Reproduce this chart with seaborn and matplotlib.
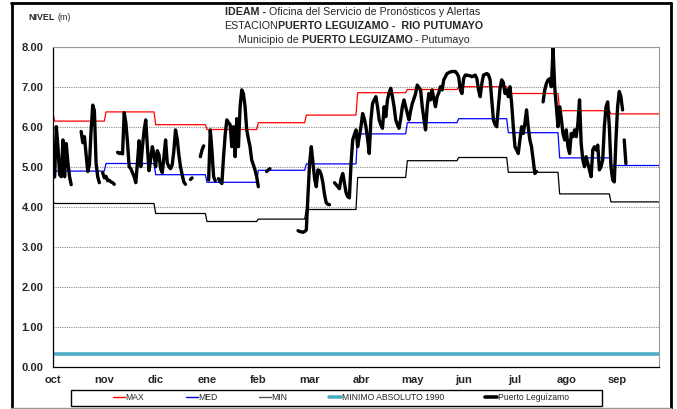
import numpy as np
import pandas as pd
import matplotlib
matplotlib.use("Agg")
import matplotlib.pyplot as plt
from matplotlib import font_manager
from matplotlib.lines import Line2D
from matplotlib.patches import Rectangle
import seaborn as sns

# ---------------------------------------------------------------- data
months = ["oct", "nov", "dic", "ene", "feb", "mar",
          "abr", "may", "jun", "jul", "ago", "sep"]
month_days = [31, 30, 31, 31, 29, 31, 30, 31, 30, 31, 31, 30]

max_level = [6.14, 6.37, 6.05, 5.93, 6.10, 6.29, 6.85, 6.93, 7.00, 6.83, 6.40, 6.32]
med_level = [4.89, 5.08, 4.80, 4.61, 4.91, 5.07, 5.82, 6.10, 6.20, 5.85, 5.22, 5.03]
min_level = [4.08, 4.08, 3.83, 3.63, 3.69, 3.93, 4.73, 5.15, 5.23, 4.86, 4.32, 4.12]
minimo_1990 = 0.32

nan = np.nan
# daily readings (day 0 = 30 sep); nan marks a break in the record
obs_day = (
    list(range(0, 12)) + [12] +
    list(range(17, 29)) + [29] +
    list(range(30, 38)) + [38] +
    list(range(39, 81)) + [81] +
    [83, 84] + [85] +
    [89, 90, 91] + [92] +
    list(range(94, 99)) + [99] +
    list(range(100, 125)) + [125] +
    [129, 130, 131] + [132] +
    list(range(148, 168)) + [168] +
    list(range(170, 293)) + [293] +
    list(range(296, 345)) + [345.5] +
    [345, 346]
)
obs_level = (
    [4.72, 4.75, 6.00, 5.50, 4.80, 4.75, 5.67, 4.75, 5.58, 5.10, 4.75, 4.55] + [nan] +
    [5.88, 5.60, 5.75, 5.30, 4.88, 5.05, 5.90, 6.54, 6.40, 5.10, 4.75, 4.60] + [nan] +
    [4.85, 4.72, 4.76, 4.65, 4.66, 4.62, 4.60, 4.56] + [nan] +
    [5.36, 5.33, 5.35, 5.32, 6.35, 6.10, 5.60, 5.00, 4.95, 4.85, 4.75, 4.60,
     5.10, 5.65, 5.00, 5.50, 5.90, 6.17, 5.50, 4.90, 5.20, 5.50, 5.30, 5.00,
     5.40, 5.30, 4.95, 4.85, 5.25, 5.67, 5.10, 5.00, 4.95, 5.05, 5.40, 5.92,
     5.70, 5.30, 5.00, 4.80, 4.62, 4.56] + [nan] +
    [4.68, 4.72] + [nan] +
    [5.25, 5.42, 5.52] + [nan] +
    [4.67, 5.92, 5.40, 4.75, 4.65] + [nan] +
    [4.70, 4.62, 4.58, 5.25, 5.80, 6.17, 6.10, 6.05, 5.50, 6.00, 5.25, 6.20,
     5.50, 6.50, 6.92, 6.83, 6.50, 5.92, 5.70, 5.50, 5.17, 5.05, 4.92, 4.75,
     4.50] + [nan] +
    [4.88, 4.92, 4.95] + [nan] +
    [3.40, 3.38, 3.37, 3.36, 3.38, 3.42, 4.30, 5.10, 5.50, 5.10, 4.70, 4.50,
     4.92, 4.90, 4.80, 4.60, 4.30, 4.10, 4.06, 4.05] + [nan] +
    [4.60, 4.55, 4.50, 4.45, 4.70, 4.83, 4.60, 4.35, 4.25, 4.22, 5.08, 5.67,
     5.80, 5.92, 5.50, 5.75, 6.00, 6.33, 6.20, 6.00, 5.70, 5.33, 6.17, 6.58,
     6.67, 6.75, 6.50, 6.17, 6.05, 5.96, 6.50, 6.25, 6.67, 6.85, 6.96, 6.75,
     6.50, 6.17, 6.05, 5.96, 6.20, 6.50, 6.67, 6.50, 6.33, 6.17, 6.40, 6.58,
     6.70, 6.83, 7.04, 6.98, 6.92, 6.50, 6.20, 5.92, 6.50, 6.83, 6.67, 6.92,
     6.70, 6.50, 6.75, 6.85, 7.00, 6.92, 7.17, 7.25, 7.33, 7.35, 7.37, 7.38,
     7.38, 7.38, 7.33, 7.25, 6.92, 6.83, 7.20, 7.29, 7.29, 7.28, 7.27, 7.25,
     7.27, 7.29, 7.20, 6.92, 6.75, 7.08, 7.29, 7.31, 7.33, 7.30, 7.17, 6.67,
     6.17, 6.05, 6.00, 6.50, 6.96, 7.17, 7.10, 6.83, 6.92, 6.75, 7.00, 6.58,
     6.00, 5.50, 5.42, 5.33, 5.67, 6.00, 5.83, 6.08, 6.42, 6.00, 5.67, 5.50,
     5.17, 4.83, 4.88] + [nan] +
    [6.62, 6.92, 7.08, 7.17, 7.20, 7.00, 7.96, 7.00, 6.50, 6.00, 6.50, 6.20,
     5.83, 5.67, 5.92, 5.50, 5.33, 5.83, 5.75, 5.92, 5.75, 6.08, 6.67, 5.58,
     5.17, 5.00, 5.25, 5.08, 4.92, 4.75, 5.42, 5.50, 5.42, 5.54, 4.92, 5.00,
     5.17, 6.00, 6.50, 6.62, 6.00, 5.00, 4.67, 4.62, 5.67, 6.50, 6.88, 6.75,
     6.42] + [nan] +
    [5.67, 5.08]
)

# ---------------------------------------------------------------- fonts
W, H = 677, 409
available = {f.name for f in font_manager.fontManager.ttflist}
if "Liberation Sans Narrow" in available:
    narrow, shrink = "Liberation Sans Narrow", 1.0
else:
    narrow, shrink = "Liberation Sans", 0.84
regular = "Liberation Sans"

sns.set_style("white")
plt.rcParams["font.family"] = [narrow, "DejaVu Sans"]


def fs(pt):
    return pt * shrink


# ---------------------------------------------------------------- series tables
def daily_steps(values):
    # value of the previous September on day 0, then one value per day
    return np.concatenate([[values[-1]], np.repeat(values, month_days)])


days = np.arange(0, sum(month_days) + 1)
steps = pd.DataFrame({
    "day": days,
    "MAX": daily_steps(max_level),
    "MED": daily_steps(med_level),
    "MIN": daily_steps(min_level),
})

obs = pd.DataFrame({"day": obs_day, "level": obs_level})
obs["seg"] = obs["level"].isna().cumsum()
obs = obs.dropna()

# ---------------------------------------------------------------- figure
fig = plt.figure(figsize=(W / 100, H / 100), dpi=100)
ax = fig.add_axes([53 / W, 1 - 366.7 / H, (659 - 53) / W, (366.7 - 46.7) / H])

c_max, c_med, c_min, c_abs = "#ff0000", "#0000ff", "#000000", "#4bacc6"

sns.lineplot(data=steps, x="day", y="MAX", color=c_max, linewidth=0.9,
             estimator=None, ax=ax)
sns.lineplot(data=steps, x="day", y="MED", color=c_med, linewidth=0.9,
             estimator=None, ax=ax)
sns.lineplot(data=steps, x="day", y="MIN", color=c_min, linewidth=0.9,
             estimator=None, ax=ax)
sns.lineplot(x=[days[0], days[-1]], y=[minimo_1990, minimo_1990], color=c_abs,
             linewidth=2.6, estimator=None, ax=ax)
sns.lineplot(data=obs, x="day", y="level", units="seg", estimator=None,
             color="black", linewidth=2.4, ax=ax, legend=False)

ax.set_xlim(0, days[-1])
ax.set_ylim(0, 8)
ax.set_xlabel("")
ax.set_ylabel("")

yt = np.arange(0, 9)
ax.set_yticks(yt)
ax.set_yticklabels([f"{v:.2f}" for v in yt])
xt = np.arange(12) * 31
ax.set_xticks(xt)
ax.set_xticklabels(months)
ax.tick_params(axis="both", direction="out", length=4, width=0.8,
               color="black", pad=3)
ax.tick_params(axis="x", pad=2)
for lab in ax.get_xticklabels() + ax.get_yticklabels():
    lab.set_fontweight("bold")
    lab.set_family([regular, "DejaVu Sans"])
    lab.set_fontsize(8.0)

for v in yt[1:]:
    ax.axhline(v, color="#8c8c8c", linewidth=0.8, linestyle=(0, (1, 1)), zorder=0)

for side in ("left", "bottom"):
    ax.spines[side].set_color("black")
    ax.spines[side].set_linewidth(0.9)
for side in ("top", "right"):
    ax.spines[side].set_color("#9a9a9a")
    ax.spines[side].set_linewidth(0.8)

# ---------------------------------------------------------------- legend
handles = [
    Line2D([], [], color=c_max, linewidth=1.0),
    Line2D([], [], color=c_med, linewidth=1.0),
    Line2D([], [], color="#555555", linewidth=1.0),
    Line2D([], [], color=c_abs, linewidth=2.6),
    Line2D([], [], color="black", linewidth=2.6),
]
labels = ["MAX", "MED", "MIN", "MINIMO ABSOLUTO 1990", "Puerto Leguízamo"]
fig.legend(handles, labels, loc="center", bbox_to_anchor=(341 / W, 1 - 398 / H),
           ncol=5, frameon=False, handlelength=1.35, handletextpad=0.1,
           columnspacing=4.8, fontsize=fs(7.4), borderpad=0, borderaxespad=0)
fig.add_artist(Rectangle((71 / W, 1 - 406 / H), (602 - 71) / W, 16 / H,
                         transform=fig.transFigure, fill=False,
                         edgecolor="black", linewidth=1.0))

# ---------------------------------------------------------------- header text
renderer = fig.canvas.get_renderer()


def rich_line(xc, yc, pieces, size):
    texts = [fig.text(0, 0, s, fontsize=size, fontweight=w, va="center")
             for s, w in pieces]
    probe = fig.text(0, 0, "x x", fontsize=size)
    probe2 = fig.text(0, 0, "xx", fontsize=size)
    space = (probe.get_window_extent(renderer).width
             - probe2.get_window_extent(renderer).width)
    probe.remove()
    probe2.remove()
    widths = []
    for t, (s, _) in zip(texts, pieces):
        t.set_text(s.strip())
        widths.append(t.get_window_extent(renderer).width)
    gaps = [space * (len(s) - len(s.rstrip())) for s, _ in pieces]
    lead = [space * (len(s) - len(s.lstrip())) for s, _ in pieces]
    total = sum(widths) + sum(gaps) + sum(lead)
    x = xc - total / 2
    for t, w, g, l in zip(texts, widths, gaps, lead):
        x += l
        t.set_position((x / W, 1 - yc / H))
        x += w + g


head = fs(9.1)
rich_line(353, 12, [("IDEAM - ", "bold"),
                    ("Oficina del Servicio de Pronósticos y Alertas", "normal")], head)
rich_line(354, 26, [("ESTACION", "normal"),
                    ("PUERTO LEGUIZAMO -  RIO PUTUMAYO", "bold")], head)
rich_line(354, 40, [("Municipio de ", "normal"),
                    ("PUERTO LEGUIZAMO", "bold"),
                    (" - Putumayo", "normal")], head)

t1 = fig.text(28 / W, 1 - 17 / H, "NIVEL", fontsize=fs(7.6), fontweight="bold", va="center")
w1 = t1.get_window_extent(renderer).width
fig.text((28 + w1 + 3) / W, 1 - 17 / H, "(m)", fontsize=fs(7.6), va="center")

# ---------------------------------------------------------------- outer frame
fig.add_artist(Line2D([11.5 / W, 11.5 / W], [0, 1 - 2.5 / H], color="black",
                      linewidth=2.0, transform=fig.transFigure))
fig.add_artist(Line2D([670.5 / W, 670.5 / W], [0, 1 - 2.5 / H], color="black",
                      linewidth=2.0, transform=fig.transFigure))
fig.add_artist(Line2D([11 / W, 671 / W], [1 - 3 / H, 1 - 3 / H], color="black",
                      linewidth=2.0, transform=fig.transFigure))
fig.add_artist(Line2D([11 / W, 671 / W], [1 - 408 / H, 1 - 408 / H], color="#9a9a9a",
                      linewidth=1.0, transform=fig.transFigure))

fig.savefig("out.png", dpi=100, facecolor="white")
